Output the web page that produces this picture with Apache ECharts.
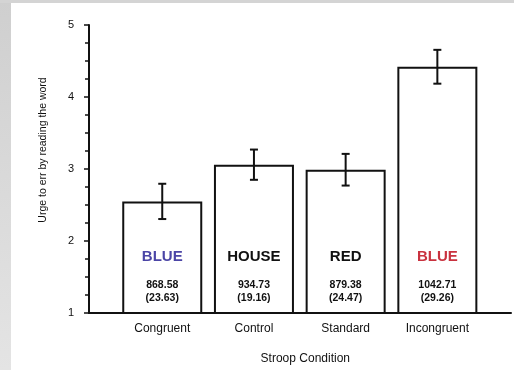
<!DOCTYPE html>
<html>
<head>
<meta charset="utf-8">
<script src="https://cdn.jsdelivr.net/npm/echarts@6/dist/echarts.min.js"></script>
<style>
  html, body { margin: 0; padding: 0; background: #fff; }
  #wrap { position: relative; width: 514px; height: 370px; overflow: hidden; background: #fff; }
  #stripL { position: absolute; left: 0; top: 0; width: 11px; height: 370px; background: linear-gradient(#cfcfcf, #e4e4e4); }
  #stripT { position: absolute; left: 0; top: 0; width: 514px; height: 3px; background: #d4d4d4; }
  #chart { position: absolute; left: 0; top: 0; width: 514px; height: 370px; }
</style>
</head>
<body>
<div id="wrap">
  <div id="stripL"></div>
  <div id="stripT"></div>
  <div id="chart"></div>
</div>
<script>
// ---- data ----
const categories = ['Congruent', 'Control', 'Standard', 'Incongruent'];
const meanUrge = [2.55, 3.06, 2.99, 4.42];
const errUrge = [0.245, 0.21, 0.22, 0.235];
const stimulusWords = ['BLUE', 'HOUSE', 'RED', 'BLUE'];
const wordInk = ['#4b45a6', '#111111', '#111111', '#c9323f'];
const meanRT = ['868.58', '934.73', '879.38', '1042.71'];
const sdRT = ['23.63', '19.16', '24.47', '29.26'];
const yTicks = [1, 2, 3, 4, 5];

const FONT = 'Liberation Sans, Arial, Helvetica, sans-serif';
const chart = echarts.init(document.getElementById('chart'), null, { renderer: 'canvas' });

const barData = meanUrge.map((v, i) => ({
  value: v,
  label: {
    formatter: '{w|' + stimulusWords[i] + '}\n{n|' + meanRT[i] + '}\n{n|(' + sdRT[i] + ')}',
    rich: {
      w: { fontFamily: FONT, fontWeight: 'bold', fontSize: 15, color: wordInk[i], lineHeight: 45 },
      n: { fontFamily: FONT, fontWeight: 'bold', fontSize: 10.5, color: '#111', lineHeight: 13 }
    }
  }
}));

const errData = meanUrge.map((v, i) => [i, v - errUrge[i], v + errUrge[i]]);

chart.setOption({
  backgroundColor: 'transparent',
  animation: false,
  grid: [
    { left: 89, right: 3, top: 25, bottom: 57 },
    { left: 116.4, width: 366.8, top: 25, bottom: 57 }
  ],
  xAxis: [
    {
      gridIndex: 0, type: 'value', min: 0, max: 1,
      axisLine: { show: true, lineStyle: { color: '#111', width: 2 } },
      axisTick: { show: false }, axisLabel: { show: false }, splitLine: { show: false }
    },
    {
      gridIndex: 1, type: 'category', data: categories,
      axisLine: { show: false }, axisTick: { show: false }, splitLine: { show: false },
      axisLabel: { fontFamily: FONT, fontSize: 12, color: '#111', margin: 10 },
      name: 'Stroop Condition', nameLocation: 'middle', nameGap: 40,
      nameTextStyle: { fontFamily: FONT, fontSize: 12, color: '#111', padding: [0, 0, 0, 11] }
    }
  ],
  yAxis: [
    {
      gridIndex: 0, type: 'value', min: yTicks[0], max: yTicks[yTicks.length - 1], interval: 1,
      axisLine: { show: true, lineStyle: { color: '#111', width: 2 } },
      axisTick: { show: true, length: 5, lineStyle: { color: '#111', width: 1.5 } },
      minorTick: { show: true, splitNumber: 4, length: 4, lineStyle: { color: '#111', width: 1.5 } },
      splitLine: { show: false }, minorSplitLine: { show: false },
      axisLabel: { fontFamily: FONT, fontSize: 11, color: '#111', margin: 15, padding: [5, 0, 0, 0] },
      name: 'Urge to err by reading the word', nameLocation: 'middle', nameGap: 40,
      nameTextStyle: { fontFamily: FONT, fontSize: 10.5, color: '#111', padding: [0, 0, 0, 38] }
    },
    {
      gridIndex: 1, type: 'value', min: yTicks[0], max: yTicks[yTicks.length - 1], show: false
    }
  ],
  series: [
    {
      type: 'bar', xAxisIndex: 1, yAxisIndex: 1, data: barData, barWidth: 80,
      itemStyle: { color: '#fff', borderColor: '#111', borderWidth: 2 },
      label: { show: true, position: 'insideBottom', distance: 9 },
      z: 2
    },
    {
      type: 'custom', xAxisIndex: 1, yAxisIndex: 1, data: errData, z: 5,
      renderItem: function (params, api) {
        const lo = api.coord([api.value(0), api.value(1)]);
        const hi = api.coord([api.value(0), api.value(2)]);
        const half = 4;
        const st = { stroke: '#111', lineWidth: 2 };
        return {
          type: 'group',
          children: [
            { type: 'line', shape: { x1: hi[0], y1: hi[1], x2: lo[0], y2: lo[1] }, style: st },
            { type: 'line', shape: { x1: hi[0] - half, y1: hi[1], x2: hi[0] + half, y2: hi[1] }, style: st },
            { type: 'line', shape: { x1: lo[0] - half, y1: lo[1], x2: lo[0] + half, y2: lo[1] }, style: st }
          ]
        };
      }
    }
  ]
});
</script>
</body>
</html>
